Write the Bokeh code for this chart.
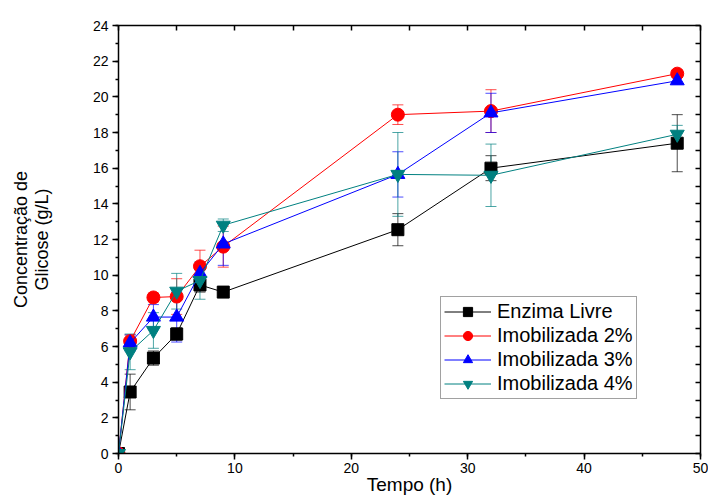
from bokeh.plotting import figure
from bokeh.models import (ColumnDataSource, Whisker, TeeHead, LinearAxis, Range1d,
                          SingleIntervalTicker, FixedTicker)
from bokeh.embed import file_html
from bokeh.resources import INLINE

tempo = [0, 1, 3, 5, 7, 9, 24, 32, 48]
livre = [0, 3.45, 5.35, 6.7, 9.45, 9.05, 12.55, 16.0, 17.4]
livre_err = [0, 1.0, 0.4, 0.35, 0.4, 0, 0.9, 0.7, 1.6]
imob2 = [0, 6.3, 8.75, 8.8, 10.5, 11.6, 19.0, 19.2, 21.3]
imob2_err = [0, 0.35, 0.25, 1.0, 0.9, 1.15, 0.55, 1.2, 0.2]
imob3 = [0, 6.2, 7.65, 7.65, 10.1, 11.75, 15.65, 19.1, 20.9]
imob3_err = [0, 0.45, 0.7, 1.4, 0.5, 1.2, 1.27, 1.1, 0.2]
imob4 = [0, 5.7, 6.9, 9.1, 9.7, 12.8, 15.65, 15.6, 17.9]
imob4_err = [0, 1.0, 1.0, 1.0, 1.05, 0.35, 2.35, 1.75, 0.5]

series_names = ["Enzima Livre", "Imobilizada 2%", "Imobilizada 3%", "Imobilizada 4%"]
series_vals = [livre, imob2, imob3, imob4]
series_errs = [livre_err, imob2_err, imob3_err, imob4_err]
colors = ["#000000", "#FF0000", "#0000FF", "#008080"]
markers = ["square", "circle", "triangle", "inverted_triangle"]
msizes = [12, 13, 14, 14]

x_title = "Tempo (h)"
y_title = "Concentração de\nGlicose (g/L)"

X_MIN, X_MAX, Y_MIN, Y_MAX = 0, 50, 0, 24

FONT = "Liberation Sans"

p = figure(width=708, height=497, x_range=Range1d(X_MIN, X_MAX), y_range=Range1d(Y_MIN, Y_MAX),
           output_backend="svg", toolbar_location=None,
           min_border_left=118, min_border_right=8, min_border_top=25, min_border_bottom=43)
p.xgrid.visible = False
p.ygrid.visible = False
p.outline_line_color = None

for name, vals, errs, c, m, s in zip(series_names, series_vals, series_errs, colors, markers, msizes):
    xs = [t for t, e in zip(tempo, errs) if e > 0]
    ys = [v for v, e in zip(vals, errs) if e > 0]
    es = [e for e in errs if e > 0]
    src_err = ColumnDataSource(dict(x=xs, upper=[y + e for y, e in zip(ys, es)],
                                    lower=[y - e for y, e in zip(ys, es)]))
    w = Whisker(base="x", upper="upper", lower="lower", source=src_err, dimension="height",
                line_color=c, line_alpha=0.7, line_width=1,
                upper_head=TeeHead(size=11, line_color=c, line_alpha=0.7, line_width=1),
                lower_head=TeeHead(size=11, line_color=c, line_alpha=0.7, line_width=1))
    p.add_layout(w)
    src = ColumnDataSource(dict(x=tempo, y=vals))
    p.line("x", "y", source=src, line_color=c, line_width=1, legend_label=name)
    p.scatter("x", "y", source=src, marker=m, size=s, fill_color=c, line_color=c,
              legend_label=name)

# axes styling
for ax in [p.xaxis[0], p.yaxis[0]]:
    ax.axis_line_width = 1.5
    ax.axis_line_color = "black"
    ax.major_tick_line_color = "black"
    ax.minor_tick_line_color = "black"
    ax.major_tick_line_width = 1.5
    ax.minor_tick_line_width = 1.5
    ax.major_tick_out = 6
    ax.major_tick_in = 0
    ax.minor_tick_out = 3
    ax.minor_tick_in = 0
    ax.major_label_text_font = FONT
    ax.major_label_text_font_size = "14px"
    ax.major_label_text_color = "black"
    ax.axis_label_text_font = FONT
    ax.axis_label_text_font_style = "normal"
    ax.axis_label_text_color = "black"

p.xaxis[0].ticker = SingleIntervalTicker(interval=10, num_minor_ticks=2)
p.yaxis[0].ticker = SingleIntervalTicker(interval=2, num_minor_ticks=2)
p.xaxis[0].major_label_standoff = 3
p.yaxis[0].major_label_standoff = 4

p.xaxis[0].axis_label = x_title
p.xaxis[0].axis_label_text_font_size = "19px"
p.xaxis[0].axis_label_standoff = -2

p.yaxis[0].axis_label = y_title
p.yaxis[0].axis_label_text_font_size = "18px"
p.yaxis[0].axis_label_text_line_height = 1.05
p.yaxis[0].axis_label_standoff = 38

# right and top axes with inward ticks only (no labels)
for loc, step, lo, hi in [("right", 1, Y_MIN, Y_MAX), ("above", 5, X_MIN, X_MAX)]:
    ax = LinearAxis(ticker=FixedTicker(ticks=[], minor_ticks=list(range(lo, hi + 1, step))))
    ax.axis_line_width = 1.5
    ax.axis_line_color = "black"
    ax.minor_tick_line_width = 1.5
    ax.minor_tick_line_color = "black"
    ax.minor_tick_in = 5
    ax.minor_tick_out = 0
    ax.major_tick_in = 0
    ax.major_tick_out = 0
    p.add_layout(ax, loc)

lg = p.legend[0]
lg.location = (322, 54)
lg.label_text_font = FONT
lg.label_text_font_size = "20px"
lg.label_text_color = "black"
lg.glyph_width = 47
lg.glyph_height = 23
lg.spacing = 1
lg.padding = 3
lg.margin = 0
lg.label_standoff = 6
lg.border_line_color = "#444444"
lg.border_line_width = 1
lg.background_fill_alpha = 1

open("out.html", "w").write(file_html(p, INLINE))
